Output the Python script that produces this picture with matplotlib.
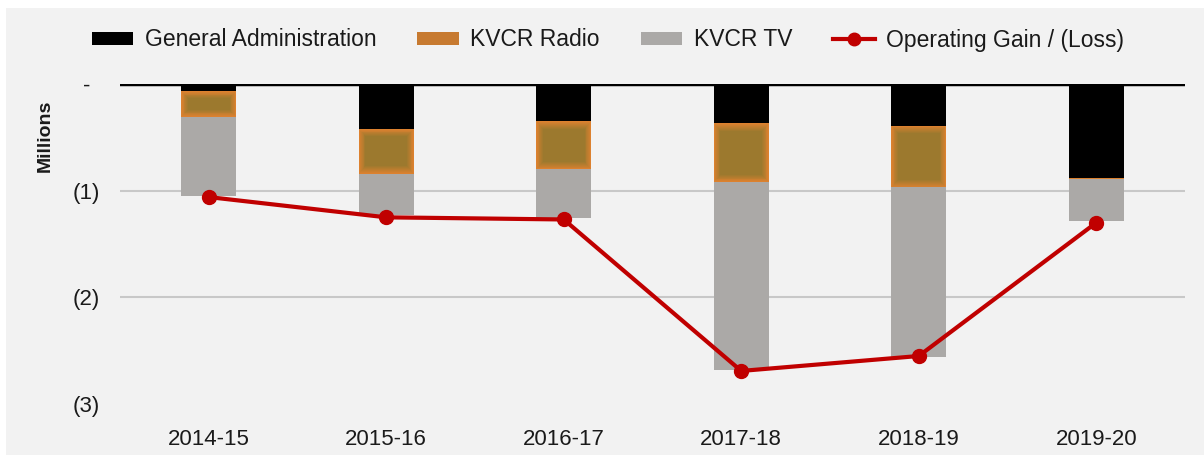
import numpy as np
import matplotlib.pyplot as plt
from matplotlib.patches import Rectangle, Patch
from matplotlib.lines import Line2D
from matplotlib.colors import to_rgb

plt.rcParams['font.family'] = ['Liberation Sans', 'DejaVu Sans']

years     = ['2014-15', '2015-16', '2016-17', '2017-18', '2018-19', '2019-20']
gen_admin = [0.065, 0.42, 0.35, 0.37, 0.39, 0.88]
radio     = [0.245, 0.42, 0.45, 0.55, 0.58, 0.01]
tv        = [0.74, 0.39, 0.46, 1.76, 1.59, 0.39]
op_gain   = [-1.06, -1.25, -1.27, -2.69, -2.55, -1.30]

yticks      = [0, -1, -2, -3]
yticklabels = ['-', '(1)', '(2)', '(3)']

bg       = '#f2f2f2'
black    = '#000000'
orange   = '#dc812f'
orange_c = '#9c792e'
gray     = '#aba9a7'
red      = '#c00000'
txt      = '#1a1a1a'

fig = plt.figure(figsize=(12.04, 4.55), dpi=100)
fig.patch.set_facecolor('white')
fig.patches.append(Rectangle((6 / 1204, 0), 1, 1 - 8 / 455, transform=fig.transFigure,
                             facecolor=bg, edgecolor='none', zorder=-10))

ax = fig.add_axes([120 / 1204, 1 - 404 / 455, 1065 / 1204, 320 / 455])
ax.patch.set_alpha(0)

x = np.arange(len(years))
w = 0.31
ga = -np.array(gen_admin)
rd = -np.array(radio)
tvv = -np.array(tv)

ax.bar(x, ga, w, color=black, zorder=3)
ax.bar(x, rd, w, bottom=ga, color=orange, zorder=3)

# soft inner glow for the radio segment
c0, c1 = np.array(to_rgb(orange)), np.array(to_rgb(orange_c))
n = 8
for i in range(len(x)):
    top = ga[i]
    h = rd[i]
    for k in range(1, n + 1):
        inset_x = 0.0045 * k
        inset_y = 0.0085 * k
        if -h <= 2 * inset_y + 0.005:
            break
        c = c0 + (c1 - c0) * k / n
        ax.bar(x[i], h + 2 * inset_y, w - 2 * inset_x, bottom=top - inset_y,
               color=c, zorder=3.1 + k * 0.01)
ax.bar(x, tvv, w, bottom=ga + rd, color=gray, zorder=3)

ax.plot(x, op_gain, color=red, lw=3, marker='o', markersize=10, zorder=5)

ax.axhline(0, color=black, lw=2.5, zorder=4)
for yv in [-1, -2]:
    ax.axhline(yv, color='#c8c8c8', lw=1.5, zorder=1)

ax.set_xlim(-0.5, 5.5)
ax.set_ylim(-3, 0)
for s in ax.spines.values():
    s.set_visible(False)

ax.set_xticks(x)
ax.set_xticklabels(years, fontsize=16, color=txt)
ax.tick_params(axis='x', length=0, pad=18)
ax.set_yticks(yticks)
ax.set_yticklabels(yticklabels, fontsize=16, color=txt)
ax.tick_params(axis='y', length=0, pad=24)
for lab in ax.get_yticklabels():
    lab.set_ha('center')

fig.text(45 / 1204, 1 - 136 / 455, 'Millions', rotation=90, fontsize=14,
         fontweight='bold', color=txt, ha='center', va='center')

handles = [
    Patch(facecolor=black, edgecolor='none'),
    Patch(facecolor='#c77a30', edgecolor='none'),
    Patch(facecolor=gray, edgecolor='none'),
    Line2D([0], [0], color=red, lw=3, marker='o', markersize=9),
]
labels = ['General Administration', 'KVCR Radio', 'KVCR TV', 'Operating Gain / (Loss)']
leg = fig.legend(handles, labels, loc='center', bbox_to_anchor=(0.505, 1 - 40 / 455),
                 ncol=4, frameon=False, fontsize=16.5, handlelength=1.8, handleheight=0.5,
                 handletextpad=0.5, columnspacing=1.8)
for t in leg.get_texts():
    t.set_color(txt)

fig.savefig('out.png', dpi=100)
